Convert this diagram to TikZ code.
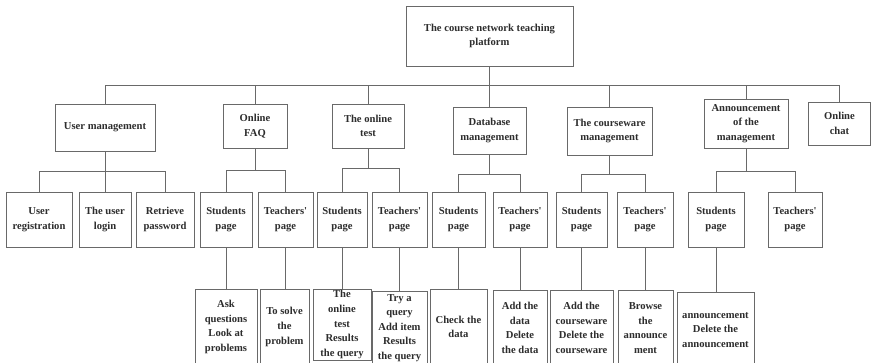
\documentclass[tikz,border=0pt]{standalone}
\usepackage{fontspec}
\setmainfont{Liberation Serif}
\definecolor{linec}{RGB}{105,105,105}
\definecolor{textc}{RGB}{45,45,45}
\tikzset{
  box/.style={draw=linec, line width=0.9pt, inner sep=0pt, align=center,
    text=textc, font=\fontsize{10.6}{14.6}\selectfont\bfseries},
  wire/.style={draw=linec, line width=0.9pt},
}
\newcommand{\tpage}{Teachers\textquotesingle\\page}
\begin{document}
\begin{tikzpicture}[x=1pt,y=-1pt]
\path[use as bounding box, clip] (0,0) rectangle (871,363);
\fill[white] (0,0) rectangle (871,363);

% root
\node[box, minimum width=167pt, minimum height=60pt] (root) at (489.5,36) {The course network teaching\\platform};

% first level
\node[box, minimum width=100pt, minimum height=47pt] (um) at (105,127.5) {User management};
\node[box, minimum width=64pt, minimum height=44pt] (faq) at (255,126) {Online\\FAQ};
\node[box, minimum width=72pt, minimum height=44pt] (test) at (368,126) {The online\\test};
\node[box, minimum width=73pt, minimum height=47pt] (db) at (489.5,130.5) {Database\\management};
\node[box, minimum width=85pt, minimum height=48pt] (cw) at (609.5,131) {The courseware\\management};
\node[box, minimum width=84pt, minimum height=49pt] (ann) at (746,123.5) {Announcement\\of the\\management};
\node[box, minimum width=62pt, minimum height=43pt] (chat) at (839.5,123.5) {Online\\chat};

% second level
\node[box, minimum width=66pt, minimum height=55pt] (ur) at (39,219.5) {User\\registration};
\node[box, minimum width=52pt, minimum height=55pt] (ul) at (105,219.5) {The user\\login};
\node[box, minimum width=58pt, minimum height=55pt] (rp) at (165,219.5) {Retrieve\\password};
\node[box, minimum width=52pt, minimum height=55pt] (fs) at (226,219.5) {Students\\page};
\node[box, minimum width=55pt, minimum height=55pt] (ft) at (285.5,219.5) {\tpage};
\node[box, minimum width=50pt, minimum height=55pt] (ts) at (342,219.5) {Students\\page};
\node[box, minimum width=55pt, minimum height=55pt] (tt) at (399.5,219.5) {\tpage};
\node[box, minimum width=53pt, minimum height=55pt] (ds) at (458.5,219.5) {Students\\page};
\node[box, minimum width=54pt, minimum height=55pt] (dt) at (520,219.5) {\tpage};
\node[box, minimum width=51pt, minimum height=55pt] (cs) at (581.5,219.5) {Students\\page};
\node[box, minimum width=56pt, minimum height=55pt] (ct) at (645,219.5) {\tpage};
\node[box, minimum width=56pt, minimum height=55pt] (as) at (716,219.5) {Students\\page};
\node[box, minimum width=54pt, minimum height=55pt] (at) at (795,219.5) {\tpage};

% third level
\node[box, minimum width=62pt, minimum height=76pt] (fs3) at (226,327) {Ask\\questions\\Look at\\problems};
\node[box, minimum width=49pt, minimum height=76pt] (ft3) at (284.5,327) {To solve\\the\\problem};
\node[box, minimum width=58pt, minimum height=71pt] (ts3) at (342,324.5) {The\\online\\test\\Results\\the query};
\node[box, minimum width=55pt, minimum height=74pt] (tt3) at (399.5,328) {Try a\\query\\Add item\\Results\\the query};
\node[box, minimum width=57pt, minimum height=76pt] (ds3) at (458.5,327) {Check the\\data};
\node[box, minimum width=54pt, minimum height=76pt] (dt3) at (520,328) {Add the\\data\\Delete\\the data};
\node[box, minimum width=63pt, minimum height=76pt] (cs3) at (581.5,328) {Add the\\courseware\\Delete the\\courseware};
\node[box, minimum width=55pt, minimum height=76pt] (ct3) at (645.5,328) {Browse\\the\\announce\\ment};
\node[box, minimum width=77pt, minimum height=76pt] (as3) at (715.5,330) {announcement\\Delete the\\announcement};

% junction points
\coordinate (j0) at (489.5,85);
\coordinate (jum) at (105,171);
\coordinate (jfaq) at (255,170);
\coordinate (jtest) at (368,168);
\coordinate (jdb) at (489.5,174);
\coordinate (jcw) at (609.5,174);
\coordinate (jann) at (746,171);

% root to first level
\draw[wire] (root.south) -- (j0);
\foreach \n in {um,faq,test,db,cw,ann,chat} \draw[wire] (j0) -| (\n.north);

% first level to second level
\draw[wire] (um.south) -- (jum);
\foreach \n in {ur,ul,rp} \draw[wire] (jum) -| (\n.north);
\draw[wire] (faq.south) -- (jfaq);
\foreach \n in {fs,ft} \draw[wire] (jfaq) -| (\n.north);
\draw[wire] (test.south) -- (jtest);
\foreach \n in {ts,tt} \draw[wire] (jtest) -| (\n.north);
\draw[wire] (db.south) -- (jdb);
\foreach \n in {ds,dt} \draw[wire] (jdb) -| (\n.north);
\draw[wire] (cw.south) -- (jcw);
\foreach \n in {cs,ct} \draw[wire] (jcw) -| (\n.north);
\draw[wire] (ann.south) -- (jann);
\foreach \n in {as,at} \draw[wire] (jann) -| (\n.north);

% second level to third level
\foreach \a/\b in {fs/fs3,ft/ft3,ts/ts3,tt/tt3,ds/ds3,dt/dt3,cs/cs3,ct/ct3,as/as3}
  \draw[wire] (\a.south) -- (\a.south |- \b.north);
\end{tikzpicture}
\end{document}
